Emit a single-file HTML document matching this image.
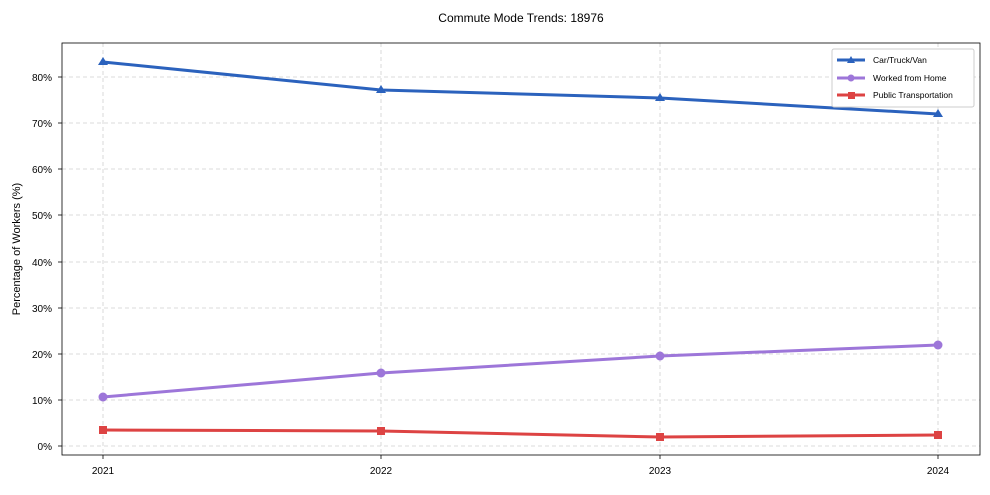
<!DOCTYPE html>
<html><head><meta charset="utf-8"><style>
body{margin:0;background:#fff;}
svg text{font-family:"Liberation Sans",Arial,sans-serif;fill:#000;}
</style></head><body>
<svg width="990" height="490" xmlns="http://www.w3.org/2000/svg">
<rect width="990" height="490" fill="#fff"/>
<text x="521" y="22" font-size="12" text-anchor="middle">Commute Mode Trends: 18976</text>
<g stroke="#d0d0d0" stroke-dasharray="4,3" stroke-width="0.8">
<line x1="62" x2="980" y1="446" y2="446"/><line x1="62" x2="980" y1="400" y2="400"/>
<line x1="62" x2="980" y1="354" y2="354"/><line x1="62" x2="980" y1="308" y2="308"/>
<line x1="62" x2="980" y1="262" y2="262"/><line x1="62" x2="980" y1="215" y2="215"/>
<line x1="62" x2="980" y1="169" y2="169"/><line x1="62" x2="980" y1="123" y2="123"/>
<line x1="62" x2="980" y1="77" y2="77"/>
<line x1="103" x2="103" y1="43" y2="455"/><line x1="381" x2="381" y1="43" y2="455"/>
<line x1="660" x2="660" y1="43" y2="455"/><line x1="938" x2="938" y1="43" y2="455"/>
</g>
<rect x="62" y="43" width="918" height="412" fill="none" stroke="#000" stroke-width="0.8"/>
<g font-size="10" text-anchor="end">
<text x="52" y="450">0%</text><text x="52" y="404">10%</text><text x="52" y="358">20%</text>
<text x="52" y="312">30%</text><text x="52" y="266">40%</text><text x="52" y="219">50%</text>
<text x="52" y="173">60%</text><text x="52" y="127">70%</text><text x="52" y="81">80%</text>
</g>
<g stroke="#000" stroke-width="0.8">
<line x1="58" x2="62" y1="446" y2="446"/><line x1="58" x2="62" y1="400" y2="400"/><line x1="58" x2="62" y1="354" y2="354"/>
<line x1="58" x2="62" y1="308" y2="308"/><line x1="58" x2="62" y1="262" y2="262"/><line x1="58" x2="62" y1="215" y2="215"/>
<line x1="58" x2="62" y1="169" y2="169"/><line x1="58" x2="62" y1="123" y2="123"/><line x1="58" x2="62" y1="77" y2="77"/>
<line x1="103" x2="103" y1="455" y2="459"/><line x1="381" x2="381" y1="455" y2="459"/><line x1="660" x2="660" y1="455" y2="459"/><line x1="938" x2="938" y1="455" y2="459"/>
</g>
<g font-size="10" text-anchor="middle">
<text x="103" y="474">2021</text><text x="381" y="474">2022</text><text x="660" y="474">2023</text><text x="938" y="474">2024</text>
</g>
<text transform="translate(20,249) rotate(-90)" font-size="11" text-anchor="middle">Percentage of Workers (%)</text>
<polyline points="103,62 381,90 660,98 938,114" fill="none" stroke="#2b62bd" stroke-width="3"/>
<g fill="#2b62bd"><path d="M103,57l5,8h-10z"/><path d="M381,85l5,8h-10z"/><path d="M660,93l5,8h-10z"/><path d="M938,109l5,8h-10z"/></g>
<polyline points="103,397 381,373 660,356 938,345" fill="none" stroke="#9d76d9" stroke-width="3"/>
<g fill="#9d76d9"><circle cx="103" cy="397" r="4.5"/><circle cx="381" cy="373" r="4.5"/><circle cx="660" cy="356" r="4.5"/><circle cx="938" cy="345" r="4.5"/></g>
<polyline points="103,430 381,431 660,437 938,435" fill="none" stroke="#dd4343" stroke-width="3"/>
<g fill="#dd4343"><rect x="99" y="426" width="8" height="8"/><rect x="377" y="427" width="8" height="8"/><rect x="656" y="433" width="8" height="8"/><rect x="934" y="431" width="8" height="8"/></g>
<rect x="832" y="49" width="142" height="58" fill="#fff" stroke="#ccc" rx="2"/>
<line x1="837" x2="865" y1="60" y2="60" stroke="#2b62bd" stroke-width="3"/><path d="M851,56l4,7h-8z" fill="#2b62bd"/>
<text x="873" y="63" font-size="8.5">Car/Truck/Van</text>
<line x1="837" x2="865" y1="78" y2="78" stroke="#9d76d9" stroke-width="3"/><circle cx="851" cy="78" r="3.5" fill="#9d76d9"/>
<text x="873" y="81" font-size="8.5">Worked from Home</text>
<line x1="837" x2="865" y1="95" y2="95" stroke="#dd4343" stroke-width="3"/><rect x="848" y="92" width="7" height="7" fill="#dd4343"/>
<text x="873" y="98" font-size="8.5">Public Transportation</text>
</svg>
</body></html>
